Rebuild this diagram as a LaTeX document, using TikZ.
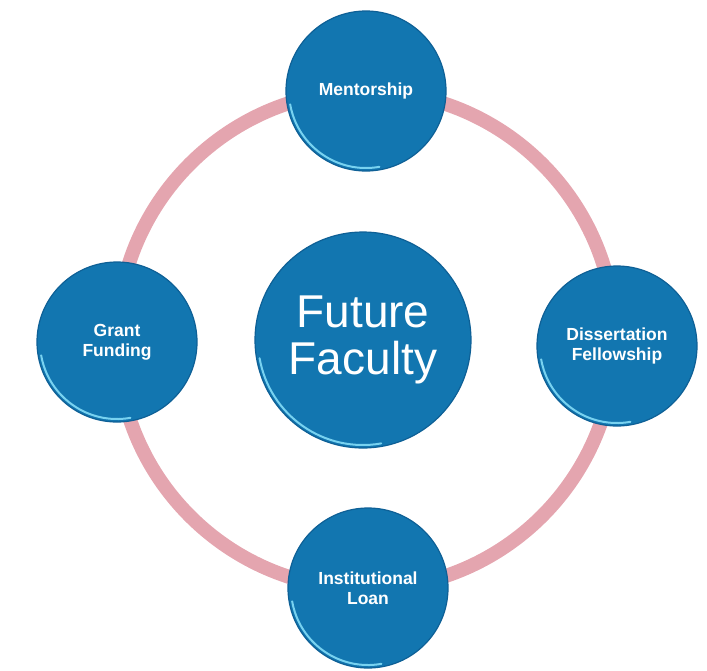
\documentclass[tikz,border=0pt]{standalone}
\usepackage{fontspec}
\setmainfont{Liberation Sans}
\begin{document}
\begin{tikzpicture}[x=1pt,y=-1pt,
  bubble/.style={circle, fill=bubblefill, draw=bubbleedge, line width=1.2pt, text=white, align=center, inner sep=0pt},
  small/.style={bubble, minimum size=160pt, font=\bfseries\fontsize{17.5}{20.5}\selectfont},
  big/.style={bubble, minimum size=216pt, font=\fontsize{46}{47}\selectfont},
  ring/.style={draw=ringpink, line width=14pt},
  shine/.style={draw=shinecyan, line width=2pt, line cap=round}]
\definecolor{bubblefill}{RGB}{18,118,176}
\definecolor{bubbleedge}{RGB}{14,96,150}
\definecolor{ringpink}{RGB}{228,165,175}
\definecolor{shinecyan}{RGB}{120,210,240}
\useasboundingbox (0,0) rectangle (707,670);
\coordinate (ctr) at (366,340);
\draw[ring] (ctr) circle[radius=249];
\node[small] (ment) at (366,91) {Mentorship};
\node[small] (grant) at (117,342) {Grant\\Funding};
\node[small] (diss) at (617,346) {Dissertation\\Fellowship};
\node[small] (loan) at (368,588) {Institutional\\Loan};
\node[big] (ff) at (363,340) {Future\\Faculty};
\foreach \n/\r in {ment/77, grant/77, diss/77, loan/77, ff/105}{
  \draw[shine] ([shift={(80:\r)}]\n.center) arc[start angle=80, end angle=170, radius=\r];
}
\end{tikzpicture}
\end{document}
